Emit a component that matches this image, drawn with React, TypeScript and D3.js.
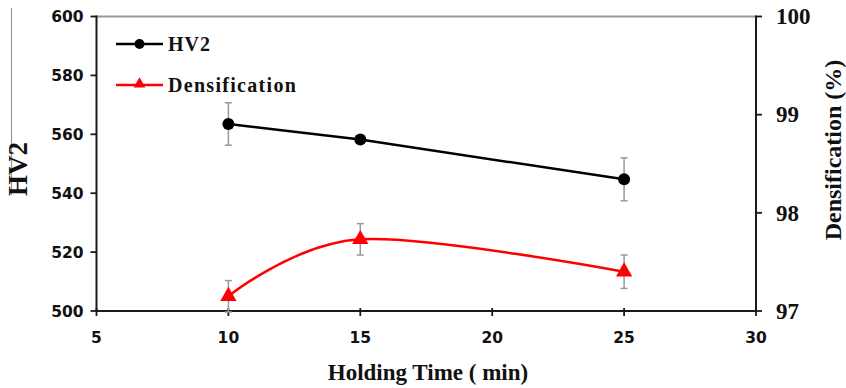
import React from "react";
import * as d3 from "d3";

const times = [10, 15, 25];
const hv2 = [563.5, 558.2, 544.7];
const hv2Err = [7.2, 1.2, 7.3];
const dens = [97.15, 97.73, 97.4];
const densErr = [0.16, 0.16, 0.17];
const xTicks = [5, 10, 15, 20, 25, 30];
const yLeftTicks = [500, 520, 540, 560, 580, 600];
const yRightTicks = [97, 98, 99, 100];

const W = 846;
const H = 388;
const L = 96.5;
const R = 756;
const T = 16.5;
const B = 311;

export default function App() {
  const x = d3.scaleLinear().domain([5, 30]).range([L, R]);
  const yL = d3.scaleLinear().domain([500, 600]).range([B, T]);
  const yR = d3.scaleLinear().domain([97, 100]).range([B, T]);

  const hvLine = d3
    .line<number>()
    .x((_, i) => x(times[i]))
    .y((d) => yL(d))
    .curve(d3.curveLinear)(hv2) as string;
  const densLine = d3
    .line<number>()
    .x((_, i) => x(times[i]))
    .y((d) => yR(d))
    .curve(d3.curveCardinal.tension(0))(dens) as string;

  const tri = d3.symbol().type(d3.symbolTriangle).size(115)() as string;
  const triSmall = d3.symbol().type(d3.symbolTriangle).size(60)() as string;

  const axisColor = "#1a1a1a";
  const errColor = "#999";
  const sans = "'DejaVu Sans', Verdana, sans-serif";
  const serif = "'Liberation Serif', 'Times New Roman', serif";

  return (
    <div style={{ position: "absolute", left: 0, top: 0 }}>
      <svg width={W} height={H} style={{ display: "block", background: "#fff" }}>
        {/* stray grey line near left label */}
        <line x1={11.5} x2={11.5} y1={8} y2={195} stroke="#999" strokeWidth={1.2} />

        {/* top border */}
        <line x1={L} x2={R} y1={T} y2={T} stroke="#999" strokeWidth={1.8} />

        {/* axes */}
        <line x1={L} x2={L} y1={T - 1} y2={B + 1} stroke={axisColor} strokeWidth={2} />
        <line x1={R} x2={R} y1={T - 1} y2={B + 1} stroke={axisColor} strokeWidth={2} />
        <line x1={L} x2={R} y1={B} y2={B} stroke={axisColor} strokeWidth={2} />

        {/* left ticks */}
        {yLeftTicks.map((t) => (
          <g key={"yl" + t}>
            <line x1={L - 6} x2={L} y1={yL(t)} y2={yL(t)} stroke={axisColor} strokeWidth={1.8} />
            <text
              x={L - 13}
              y={yL(t)}
              dy="0.36em"
              textAnchor="end"
              fontFamily={sans}
              fontWeight="bold"
              fontSize={15.5}
              fill="#111"
            >
              {t}
            </text>
          </g>
        ))}

        {/* right ticks */}
        {yRightTicks.map((t) => (
          <g key={"yr" + t}>
            <line x1={R} x2={R + 6} y1={yR(t)} y2={yR(t)} stroke={axisColor} strokeWidth={1.8} />
            <text
              x={R + 20}
              y={yR(t)}
              dy="0.34em"
              textAnchor="start"
              fontFamily={serif}
              fontWeight="bold"
              fontSize={23}
              fill="#111"
            >
              {t}
            </text>
          </g>
        ))}

        {/* bottom ticks */}
        {xTicks.map((t) => (
          <g key={"x" + t}>
            <line x1={x(t)} x2={x(t)} y1={B - 3} y2={B + 5} stroke={axisColor} strokeWidth={1.8} />
            <text
              x={x(t)}
              y={337}
              dy="0.36em"
              textAnchor="middle"
              fontFamily={sans}
              fontWeight="bold"
              fontSize={15.5}
              fill="#111"
            >
              {t}
            </text>
          </g>
        ))}

        {/* axis titles */}
        <text
          x={428}
          y={372}
          dy="0.35em"
          textAnchor="middle"
          fontFamily={serif}
          fontWeight="bold"
          fontSize={23}
          fill="#111"
        >
          Holding Time ( min)
        </text>
        <text
          transform={`translate(18,169) rotate(-90)`}
          dy="0.35em"
          textAnchor="middle"
          fontFamily={serif}
          fontWeight="bold"
          fontSize={27}
          fill="#111"
        >
          HV2
        </text>
        <text
          transform={`translate(833,150) rotate(-90)`}
          dy="0.35em"
          textAnchor="middle"
          fontFamily={serif}
          fontWeight="bold"
          fontSize={24}
          fill="#111"
        >
          Densification (%)
        </text>

        {/* error bars */}
        {times.map((t, i) => (
          <g key={"eh" + t} stroke={errColor} strokeWidth={1.5}>
            <line x1={x(t)} x2={x(t)} y1={yL(hv2[i] - hv2Err[i])} y2={yL(hv2[i] + hv2Err[i])} />
            <line x1={x(t) - 3.5} x2={x(t) + 3.5} y1={yL(hv2[i] - hv2Err[i])} y2={yL(hv2[i] - hv2Err[i])} />
            <line x1={x(t) - 3.5} x2={x(t) + 3.5} y1={yL(hv2[i] + hv2Err[i])} y2={yL(hv2[i] + hv2Err[i])} />
          </g>
        ))}
        {times.map((t, i) => (
          <g key={"ed" + t} stroke={errColor} strokeWidth={1.5}>
            <line x1={x(t)} x2={x(t)} y1={yR(dens[i] - densErr[i])} y2={yR(dens[i] + densErr[i])} />
            <line x1={x(t) - 3.5} x2={x(t) + 3.5} y1={yR(dens[i] - densErr[i])} y2={yR(dens[i] - densErr[i])} />
            <line x1={x(t) - 3.5} x2={x(t) + 3.5} y1={yR(dens[i] + densErr[i])} y2={yR(dens[i] + densErr[i])} />
          </g>
        ))}

        {/* series lines */}
        <path d={hvLine} fill="none" stroke="#000" strokeWidth={2.5} />
        <path d={densLine} fill="none" stroke="#ff0000" strokeWidth={2.5} />

        {/* markers */}
        {times.map((t, i) => (
          <circle key={"c" + t} cx={x(t)} cy={yL(hv2[i])} r={6} fill="#000" />
        ))}
        {times.map((t, i) => (
          <path key={"t" + t} d={tri} transform={`translate(${x(t)},${yR(dens[i])})`} fill="#ff0000" />
        ))}

        {/* legend */}
        <line x1={116} x2={163} y1={44} y2={44} stroke="#000" strokeWidth={2.5} />
        <circle cx={139.5} cy={44} r={5} fill="#000" />
        <text x={168} y={44} dy="0.35em" fontFamily={serif} fontWeight="bold" fontSize={20} letterSpacing={1} fill="#111">
          HV2
        </text>
        <line x1={116} x2={163} y1={85} y2={85} stroke="#ff0000" strokeWidth={2.5} />
        <path d={triSmall} transform="translate(139.5,84)" fill="#ff0000" />
        <text x={168} y={85} dy="0.35em" fontFamily={serif} fontWeight="bold" fontSize={20} letterSpacing={1.3} fill="#111">
          Densification
        </text>
      </svg>
    </div>
  );
}
